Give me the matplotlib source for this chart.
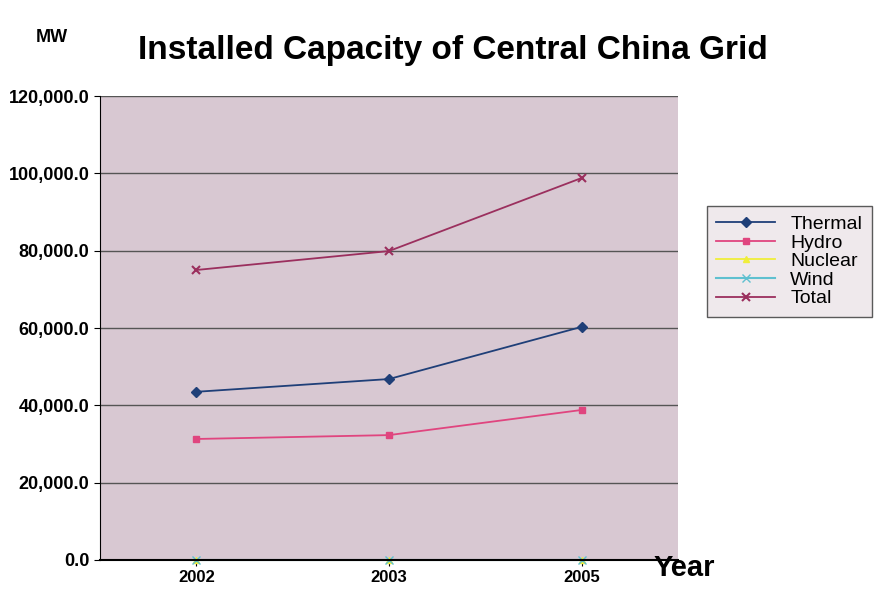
import matplotlib.pyplot as plt
import numpy as np

plt.rcParams['font.family'] = ['Liberation Sans', 'DejaVu Sans']

years = ['2002', '2003', '2005']
thermal = [43500, 46800, 60300]
hydro = [31300, 32300, 38800]
nuclear = [0, 0, 0]
wind = [0, 0, 0]
total = [75000, 79900, 98800]
yticks = [0, 20000, 40000, 60000, 80000, 100000, 120000]

fig = plt.figure(figsize=(8.91, 5.99), dpi=100)
ax = fig.add_axes([100 / 891, 1 - 560 / 599, 578 / 891, 464 / 599])
ax.set_facecolor('#d8c8d2')

x = np.arange(len(years))
ax.plot(x, thermal, color='#1f3f78', marker='D', ms=5, lw=1.3, label='Thermal')
ax.plot(x, hydro, color='#e0457f', marker='s', ms=5, lw=1.3, label='Hydro')
ax.plot(x, nuclear, color='#f0ee3a', marker='^', ms=5, lw=1.3, label='Nuclear', clip_on=False)
ax.plot(x, wind, color='#5fc0d0', marker='x', ms=6, lw=1.5, label='Wind', clip_on=False)
ax.plot(x, total, color='#9b2f5e', marker='x', ms=6, mew=1.5, lw=1.3, label='Total')

ax.set_xlim(-0.5, 2.5)
ax.set_ylim(0, 120000)
ax.set_yticks(yticks)
ax.set_yticklabels([f'{v:,.1f}' for v in yticks], fontsize=13, fontweight='bold')
ax.set_xticks(x)
ax.set_xticklabels(years, fontsize=12, fontweight='bold')
ax.yaxis.grid(True, color='#555555', lw=1)
ax.set_axisbelow(True)
for s in ['top', 'right']:
    ax.spines[s].set_visible(False)
ax.spines['left'].set_color('black')
ax.spines['bottom'].set_color('black')
ax.spines['bottom'].set_linewidth(1.5)
ax.tick_params(axis='both', length=4, colors='black')

fig.text(453 / 891, 1 - 50 / 599, 'Installed Capacity of Central China Grid',
         ha='center', va='center', fontsize=24, fontweight='bold')
fig.text(52 / 891, 1 - 38 / 599, 'MW', ha='center', va='center', fontsize=13, fontweight='bold')
fig.text(684 / 891, 1 - 568 / 599, 'Year', ha='center', va='center', fontsize=21, fontweight='bold')

leg = fig.legend(loc='upper left', bbox_to_anchor=(697 / 891, 1 - 196 / 599),
                 fontsize=14, frameon=True, fancybox=False, edgecolor='#333333',
                 handlelength=3, labelspacing=0.05, borderpad=0.5)
leg.get_frame().set_facecolor('#ece4e8')

fig.savefig('out.png', dpi=100, facecolor='white')
